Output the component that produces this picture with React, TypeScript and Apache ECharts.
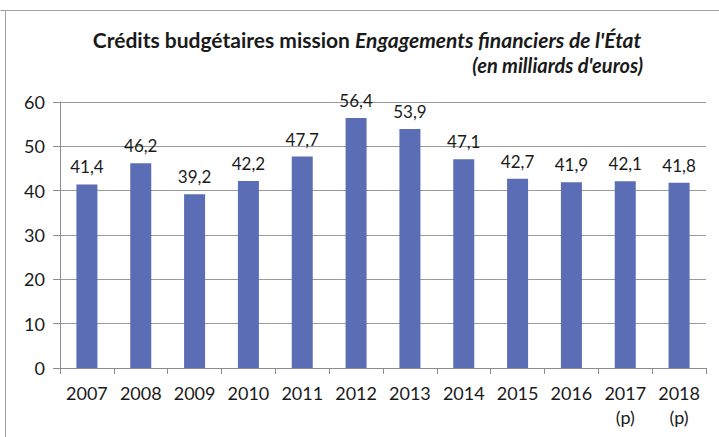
import React, { useEffect, useRef } from "react";
import * as echarts from "echarts";

const categories = ["2007", "2008", "2009", "2010", "2011", "2012", "2013", "2014", "2015", "2016", "2017\n(p)", "2018\n(p)"];
const values = [41.4, 46.2, 39.2, 42.2, 47.7, 56.4, 53.9, 47.1, 42.7, 41.9, 42.1, 41.8];
const yTicks = [0, 10, 20, 30, 40, 50, 60];

const FONT = "Lato, 'Open Sans', sans-serif";

export default function App() {
  const ref = useRef<HTMLDivElement>(null);
  useEffect(() => {
    if (!ref.current) return;
    const chart = echarts.init(ref.current, undefined, { renderer: "svg" });
    chart.setOption({
      animation: false,
      backgroundColor: "#ffffff",
      title: {
        text: "{a|Crédits budgétaires mission }{b|Engagements financiers de l'État}",
        left: 367,
        textAlign: "center",
        top: 29,
        padding: 0,
        textStyle: {
          rich: {
            a: { fontFamily: FONT, fontWeight: "bold", fontSize: 21, color: "#1a1a1a" },
            b: { fontFamily: FONT, fontWeight: "bold", fontStyle: "italic", fontSize: 21, color: "#1a1a1a" },
          },
        },
      },
      graphic: [
        {
          type: "text",
          right: 76,
          top: 55,
          style: {
            text: "(en milliards d'euros)",
            font: "italic bold 20px " + FONT,
            fill: "#1a1a1a",
          },
        },
        { type: "line", shape: { x1: 0.5, y1: 10.5, x2: 719, y2: 10.5 }, style: { stroke: "#a0a0a0", lineWidth: 1 } },
        { type: "line", shape: { x1: 5.5, y1: 10.5, x2: 5.5, y2: 437 }, style: { stroke: "#a0a0a0", lineWidth: 1 } },
      ],
      grid: { left: 60, right: 13, top: 102, bottom: 69, containLabel: false },
      xAxis: {
        type: "category",
        data: categories,
        axisLine: { lineStyle: { color: "#8c8c8c" } },
        axisTick: { show: true, length: 6, lineStyle: { color: "#8c8c8c" } },
        axisLabel: { color: "#1a1a1a", fontFamily: FONT, fontSize: 18, margin: 13, lineHeight: 24, interval: 0 },
      },
      yAxis: {
        type: "value",
        min: yTicks[0],
        max: yTicks[yTicks.length - 1],
        interval: 10,
        axisLine: { show: true, lineStyle: { color: "#8c8c8c" } },
        axisTick: { show: true, length: 7, lineStyle: { color: "#8c8c8c" } },
        splitLine: { lineStyle: { color: "#9a9a9a" } },
        axisLabel: { color: "#1a1a1a", fontFamily: FONT, fontSize: 18, margin: 15 },
      },
      series: [
        {
          type: "bar",
          data: values,
          barWidth: 21,
          itemStyle: { color: "#5b6db4" },
          label: {
            show: true,
            position: "top",
            distance: 9,
            color: "#1a1a1a",
            fontFamily: FONT,
            fontSize: 17,
            formatter: (p: any) => String(p.value).replace(".", ","),
          },
        },
      ],
    });
    return () => chart.dispose();
  }, []);
  return <div ref={ref} style={{ width: 719, height: 437, position: "absolute", left: 0, top: 0 }} />;
}
